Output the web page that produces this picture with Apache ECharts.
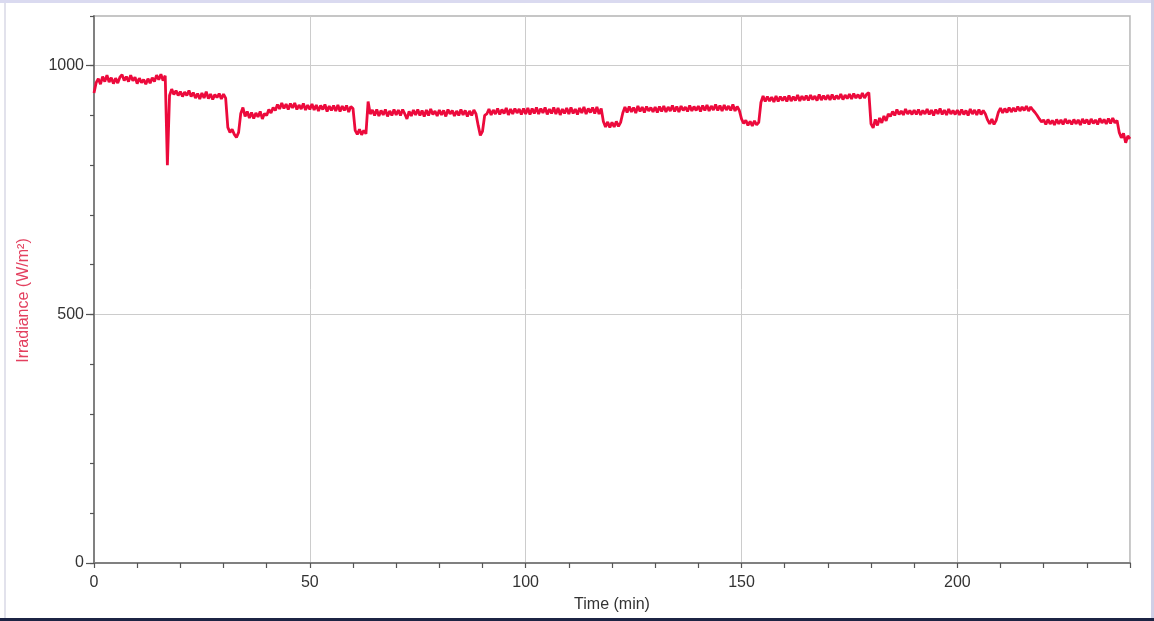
<!DOCTYPE html>
<html>
<head>
<meta charset="utf-8">
<title>Irradiance</title>
<script src="https://cdn.jsdelivr.net/npm/echarts@6/dist/echarts.min.js"></script>
<style>
  html, body { margin: 0; padding: 0; background: #ffffff; }
  #chart { width: 1154px; height: 621px; }
</style>
</head>
<body>
<div id="chart"></div>
<script>
// Logged irradiance, one reading every half minute (W/m²), one row per 10 minutes
const STEP_MIN = 0.5;
const irradiance = [
  945, 966, 974, 963, 978, 968, 981, 967, 976, 964, 975, 965, 977, 982, 970, 978, 968, 981, 970, 977,
  964, 975, 966, 972, 963, 974, 965, 976, 968, 981, 972, 983, 970, 980, 800, 940, 953, 942, 950, 940,
  948, 938, 947, 940, 950, 938, 946, 935, 944, 933, 945, 935, 948, 934, 943, 932, 942, 936, 944, 933,
  943, 935, 876, 866, 872, 862, 856, 866, 904, 916, 898, 908, 895, 906, 894, 905, 897, 908, 893, 904,
  900, 912, 905, 916, 910, 922, 913, 925, 914, 923, 912, 924, 915, 925, 912, 921, 913, 924, 911, 921,
  912, 923, 911, 921, 909, 920, 912, 922, 908, 919, 910, 920, 909, 921, 908, 919, 910, 920, 907, 918,
  914, 870, 862, 872, 861, 870, 863, 928, 903, 911, 900, 912, 899, 910, 901, 912, 898, 909, 900, 912,
  901, 911, 900, 912, 903, 893, 908, 899, 911, 901, 912, 900, 910, 898, 911, 900, 913, 902, 909, 899,
  911, 901, 910, 898, 912, 903, 910, 899, 909, 900, 912, 901, 910, 898, 909, 900, 911, 903, 880, 860,
  868, 900, 903, 913, 901, 911, 903, 914, 902, 912, 904, 915, 901, 913, 903, 914, 905, 913, 902, 914,
  903, 915, 902, 914, 904, 916, 903, 914, 905, 916, 902, 913, 904, 916, 903, 915, 901, 913, 904, 915,
  903, 916, 904, 913, 902, 915, 905, 917, 903, 914, 906, 916, 904, 917, 903, 914, 888, 877, 887, 876,
  886, 877, 888, 878, 886, 905, 917, 906, 918, 907, 916, 905, 919, 908, 917, 906, 918, 909, 916, 907,
  917, 906, 918, 908, 919, 907, 917, 909, 920, 908, 918, 907, 919, 910, 917, 908, 920, 909, 918, 910,
  919, 908, 920, 910, 921, 909, 919, 911, 922, 910, 920, 909, 921, 911, 919, 910, 922, 909, 918, 910,
  893, 884, 890, 880, 888, 879, 889, 881, 886, 926, 939, 928, 938, 929, 937, 927, 939, 928, 938, 930,
  938, 928, 940, 929, 938, 930, 941, 929, 939, 931, 940, 930, 941, 932, 939, 930, 942, 931, 940, 932,
  941, 931, 942, 932, 940, 933, 943, 932, 941, 934, 943, 933, 944, 935, 942, 934, 945, 935, 943, 946,
  883, 875, 892, 880, 895, 885, 899, 889, 903, 898, 908, 900, 912, 902, 909, 901, 913, 903, 910, 902,
  911, 902, 912, 901, 910, 903, 913, 902, 911, 900, 912, 903, 914, 902, 911, 901, 913, 903, 910, 902,
  911, 901, 912, 902, 910, 900, 913, 903, 911, 901, 912, 902, 910, 903, 891, 883, 893, 882, 890, 906,
  915, 905, 914, 906, 916, 907, 915, 908, 918, 909, 917, 910, 919, 909, 917, 911, 906, 900, 893, 887,
  891, 882, 892, 883, 890, 881, 892, 883, 891, 882, 893, 884, 890, 882, 892, 883, 891, 881, 893, 884,
  892, 882, 893, 884, 891, 882, 894, 885, 892, 883, 894, 884, 895, 885, 890, 866, 855, 864, 845, 859,
  853
];

// Axis tick labels
const timeLabels = [0, 50, 100, 150, 200];
const irradianceLabels = [0, 500, 1000];

const seriesData = irradiance.map((v, i) => [i * STEP_MIN, v]);

const labelFont = { fontFamily: 'Liberation Sans, Arial, sans-serif', fontSize: 16, color: '#333333' };
const plainNumber = v => String(v);

const chart = echarts.init(document.getElementById('chart'), null, { renderer: 'canvas' });

chart.setOption({
  animation: false,
  backgroundColor: '#ffffff',
  grid: {
    left: 94, right: 24, top: 16, bottom: 58,
    show: true, borderColor: '#b4b4b4', borderWidth: 1.5, backgroundColor: 'transparent'
  },
  graphic: [
    // window frame around the plot
    { type: 'rect', shape: { x: 0, y: 0, width: 1154, height: 3 }, style: { fill: '#dadaf0' }, silent: true },
    { type: 'rect', shape: { x: 4, y: 3, width: 2, height: 615 }, style: { fill: '#e2e2ec' }, silent: true },
    { type: 'rect', shape: { x: 1151, y: 0, width: 3, height: 621 }, style: { fill: '#cfcfe6' }, silent: true },
    { type: 'rect', shape: { x: 0, y: 618, width: 1154, height: 3 }, style: { fill: '#1c2444' }, silent: true }
  ],
  xAxis: [
    {
      type: 'value', min: 0, max: 240, interval: 50,
      name: 'Time (min)', nameLocation: 'middle', nameGap: 34,
      nameTextStyle: { fontFamily: labelFont.fontFamily, fontSize: 16, color: '#333333' },
      axisLine: { show: true, onZero: false, lineStyle: { color: '#808080', width: 2 } },
      axisTick: { show: false },
      axisLabel: Object.assign({ margin: 12, customValues: timeLabels, formatter: plainNumber }, labelFont),
      splitLine: { show: true, lineStyle: { color: '#cccccc', width: 1 } }
    },
    {
      // minor ticks every 10 min
      type: 'value', min: 0, max: 240, interval: 10, position: 'bottom',
      axisLine: { show: false },
      axisTick: { show: true, length: 5, lineStyle: { color: '#555555', width: 1.2 } },
      axisLabel: { show: false },
      splitLine: { show: false }
    }
  ],
  yAxis: [
    {
      type: 'value', min: 0, max: 1100, interval: 500,
      name: 'Irradiance (W/m²)', nameLocation: 'middle', nameRotate: 90, nameGap: 62,
      nameTextStyle: { fontFamily: labelFont.fontFamily, fontSize: 16, color: '#e3405f', padding: [0, 22, 0, 0] },
      axisLine: { show: true, lineStyle: { color: '#808080', width: 2 } },
      axisTick: { show: true, length: 8, customValues: irradianceLabels, lineStyle: { color: '#555555', width: 1.2 } },
      axisLabel: Object.assign({ margin: 10, customValues: irradianceLabels, formatter: plainNumber }, labelFont),
      splitLine: { show: true, lineStyle: { color: '#cccccc', width: 1 } }
    },
    {
      // minor ticks every 100 W/m²
      type: 'value', min: 0, max: 1100, interval: 100, position: 'left',
      axisLine: { show: false },
      axisTick: { show: true, length: 4, lineStyle: { color: '#555555', width: 1.2 } },
      axisLabel: { show: false },
      splitLine: { show: false }
    }
  ],
  series: [
    {
      type: 'line',
      name: 'Irradiance',
      xAxisIndex: 0,
      yAxisIndex: 0,
      data: seriesData,
      showSymbol: false,
      symbol: 'none',
      lineStyle: { color: '#ec0a3c', width: 2.8 },
      z: 5
    }
  ]
});
</script>
</body>
</html>
